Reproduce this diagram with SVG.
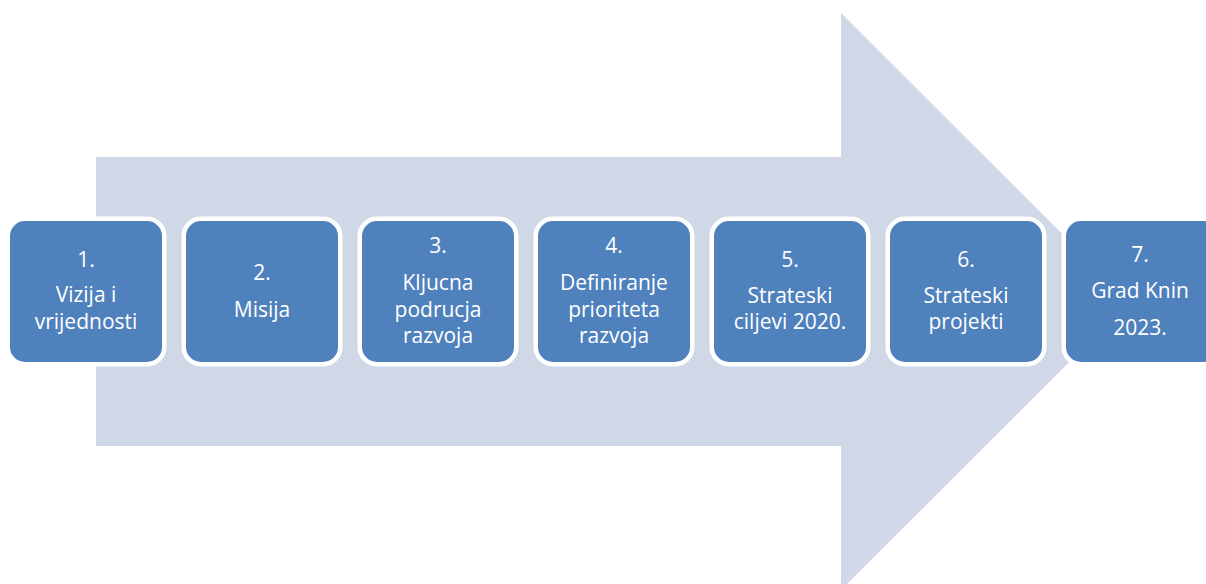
<svg xmlns="http://www.w3.org/2000/svg" width="1206" height="584" viewBox="0 0 1206 584">
<style>
.box{fill:#4F81BD;stroke:#FFFFFF;stroke-width:9;paint-order:stroke}
.t{font-family:"Open Sans","Noto Sans",sans-serif;font-size:21px;fill:#FFFFFF;text-anchor:middle}
</style>
<rect width="1206" height="584" fill="#FFFFFF"/>
<g id="arrow">
<polygon points="96,157 841,157 841,13 1130,301.5 841,590 841,446 96,446" fill="#D0D8E8"/>
</g>
<g id="connectors"></g>
<g id="node1">
<rect class="box" x="10" y="221" width="152" height="141" rx="15"/>
<text class="t" x="86" y="267">1.</text>
<text class="t" x="86" y="302">Vizija i</text>
<text class="t" x="86" y="329">vrijednosti</text>
</g>
<g id="node2">
<rect class="box" x="186" y="221" width="152" height="141" rx="15"/>
<text class="t" x="262" y="280">2.</text>
<text class="t" x="262" y="317">Misija</text>
</g>
<g id="node3">
<rect class="box" x="362" y="221" width="152" height="141" rx="15"/>
<text class="t" x="438" y="253">3.</text>
<text class="t" x="438" y="290">Kljucna</text>
<text class="t" x="438" y="317">podrucja</text>
<text class="t" x="438" y="343">razvoja</text>
</g>
<g id="node4">
<rect class="box" x="538" y="221" width="152" height="141" rx="15"/>
<text class="t" x="614" y="253">4.</text>
<text class="t" x="614" y="290">Definiranje</text>
<text class="t" x="614" y="317">prioriteta</text>
<text class="t" x="614" y="343">razvoja</text>
</g>
<g id="node5">
<rect class="box" x="714" y="221" width="152" height="141" rx="15"/>
<text class="t" x="790" y="267">5.</text>
<text class="t" x="790" y="303">Strateski</text>
<text class="t" x="790" y="329">ciljevi 2020.</text>
</g>
<g id="node6">
<rect class="box" x="890" y="221" width="152" height="141" rx="15"/>
<text class="t" x="966" y="267">6.</text>
<text class="t" x="966" y="303">Strateski</text>
<text class="t" x="966" y="329">projekti</text>
</g>
<g id="node7">
<rect class="box" x="1066" y="221" width="152" height="141" rx="15"/>
<text class="t" x="1140" y="262">7.</text>
<text class="t" x="1140" y="298">Grad Knin</text>
<text class="t" x="1140" y="335">2023.</text>
</g>
</svg>
